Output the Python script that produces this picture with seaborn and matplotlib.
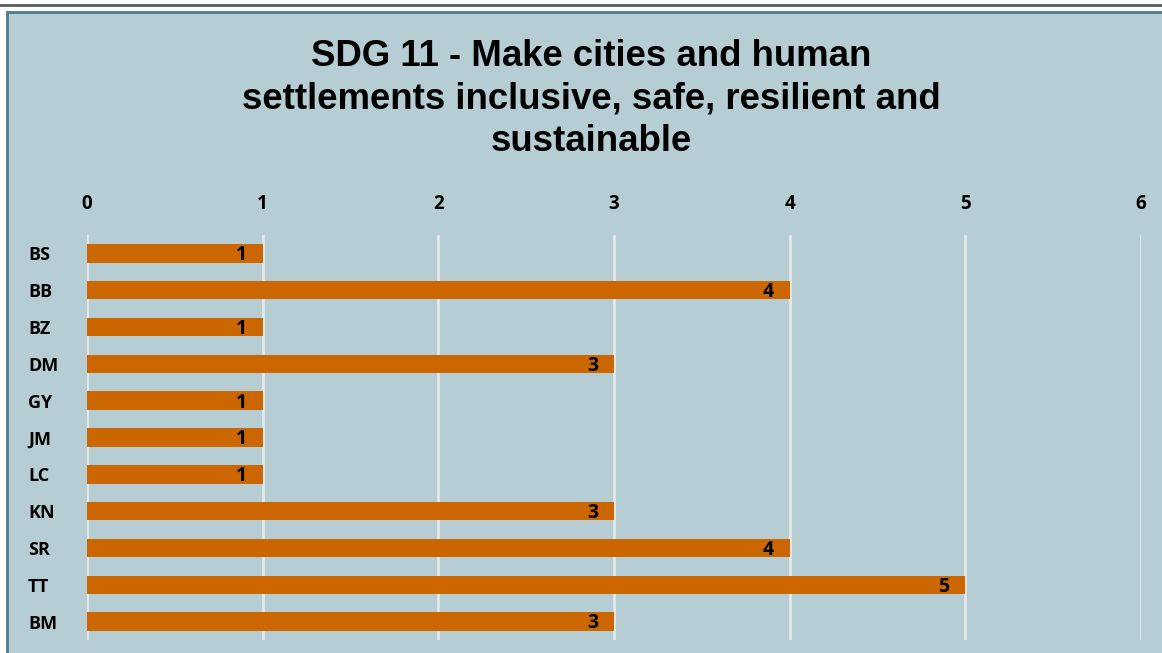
import matplotlib
matplotlib.use("Agg")
import matplotlib.pyplot as plt
import seaborn as sns
import pandas as pd
from matplotlib.patches import Rectangle
from matplotlib.lines import Line2D

# data
countries = ['BS', 'BB', 'BZ', 'DM', 'GY', 'JM', 'LC', 'KN', 'SR', 'TT', 'BM']
counts = [1, 4, 1, 3, 1, 1, 1, 3, 4, 5, 3]
x_ticks = [0, 1, 2, 3, 4, 5, 6]
title = 'SDG 11 - Make cities and human\nsettlements inclusive, safe, resilient and\nsustainable'

df = pd.DataFrame({'country': countries, 'count': counts})

bg = '#b5cdd3'
bar_color = '#cc6600'

sns.set_theme(style='white')
plt.rcParams['font.family'] = ['Open Sans', 'DejaVu Sans']

fig = plt.figure(figsize=(11.62, 6.53), dpi=100)
fig.patch.set_facecolor('white')

# chart box (spills off right/bottom like the screenshot)
W, H = 1162, 653
fig.patches.append(Rectangle((7 / W, -0.05), 1.1, 1 - 12 / H + 0.05, transform=fig.transFigure,
                             facecolor=bg, edgecolor='#4f7b8f', linewidth=2, zorder=-5))
fig.lines.append(Line2D([0, 1], [1 - 5 / H, 1 - 5 / H], transform=fig.transFigure,
                        color='#5a5a5a', linewidth=2, zorder=-5))

ax = fig.add_axes([87 / W, 1 - 640 / H, (1141 - 87) / W, (640 - 235) / H])
ax.set_facecolor('none')

sns.barplot(data=df, x='count', y='country', orient='h', color=bar_color,
            saturation=1, width=0.5, linewidth=0, ax=ax, zorder=3)

ax.set_xlim(0, 6)
ax.set_ylim(10.5, -0.5)
ax.set_xticks(x_ticks)
ax.xaxis.tick_top()
ax.grid(axis='x', color='#e4e9ea', linewidth=2, zorder=1)
ax.grid(axis='y', visible=False)
ax.set_axisbelow(True)
for s in ax.spines.values():
    s.set_visible(False)
ax.tick_params(axis='x', length=0, pad=15, labelsize=13.5, labelcolor='black')
ax.tick_params(axis='y', length=0, pad=42.5, labelsize=13, labelcolor='black')
for lab in ax.get_xticklabels():
    lab.set_fontweight('bold')
for lab in ax.get_yticklabels():
    lab.set_fontweight('bold')
    lab.set_horizontalalignment('left')
ax.set_xlabel('')
ax.set_ylabel('')

for i, v in enumerate(counts):
    ax.text(v - 0.09, i + 0.05, str(v), ha='right', va='center',
            fontsize=14, fontweight='bold', color='black', zorder=4)

fig.text(591 / W, 1 - 99 / H, title, ha='center', va='center', color='black',
         fontsize=26.4, fontweight='bold', family=['Liberation Sans', 'DejaVu Sans'],
         linespacing=1.27)

fig.savefig('out.png', dpi=100, facecolor='white')
